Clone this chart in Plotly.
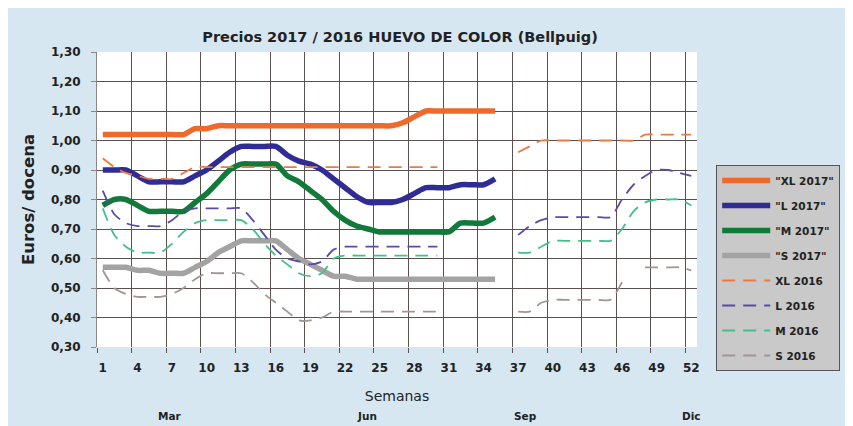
import plotly.graph_objects as go

weeks = list(range(1, 53))
weeks_2017 = list(range(1, 36))
tick_weeks = list(range(1, 53, 3))
tick_labels = [str(w) for w in tick_weeks]

xl_2017 = [1.02] * 8 + [1.04, 1.04] + [1.05] * 16 + [1.06, 1.08] + [1.10] * 7
l_2017 = [0.90, 0.90, 0.90, 0.88, 0.86, 0.86, 0.86, 0.86, 0.88, 0.90,
          0.93, 0.96, 0.98, 0.98, 0.98, 0.98, 0.95, 0.93, 0.92, 0.90,
          0.87, 0.84, 0.81, 0.79, 0.79, 0.79, 0.80, 0.82, 0.84, 0.84,
          0.84, 0.85, 0.85, 0.85, 0.87]
m_2017 = [0.78, 0.80, 0.80, 0.78, 0.76, 0.76, 0.76, 0.76, 0.79, 0.82,
          0.86, 0.90, 0.92, 0.92, 0.92, 0.92, 0.88, 0.86, 0.83, 0.80,
          0.76, 0.73, 0.71, 0.70, 0.69, 0.69, 0.69, 0.69, 0.69, 0.69,
          0.69, 0.72, 0.72, 0.72, 0.74]
s_2017 = [0.57, 0.57, 0.57, 0.56, 0.56, 0.55, 0.55, 0.55, 0.57, 0.59,
          0.62, 0.64, 0.66, 0.66, 0.66, 0.66, 0.63, 0.60, 0.58, 0.56,
          0.54, 0.54, 0.53, 0.53, 0.53, 0.53, 0.53, 0.53, 0.53, 0.53,
          0.53, 0.53, 0.53, 0.53, 0.53]

gap = [None] * 6
xl_2016 = ([0.94, 0.91, 0.89, 0.88, 0.87, 0.87, 0.87, 0.89] + [0.91] * 22 + gap
           + [0.96, 0.98] + [1.00] * 9 + [1.02] * 5)
l_2016 = ([0.83, 0.75, 0.72, 0.71, 0.71, 0.71, 0.73, 0.76, 0.77, 0.77,
           0.77, 0.77, 0.77, 0.73, 0.68, 0.63, 0.60, 0.59, 0.58, 0.59,
           0.63] + [0.64] * 9 + gap
          + [0.68, 0.71, 0.73] + [0.74] * 6 + [0.80, 0.85, 0.88, 0.90, 0.90, 0.89, 0.88])
m_2016 = ([0.77, 0.68, 0.64, 0.62, 0.62, 0.62, 0.65, 0.69, 0.72, 0.73,
           0.73, 0.73, 0.73, 0.70, 0.65, 0.61, 0.58, 0.55, 0.54, 0.55,
           0.60] + [0.61] * 9 + gap
          + [0.62, 0.62, 0.64] + [0.66] * 6 + [0.70, 0.76, 0.79, 0.80, 0.80, 0.80, 0.78])
s_2016 = ([0.56, 0.50, 0.48, 0.47, 0.47, 0.47, 0.48, 0.50, 0.53, 0.55,
           0.55, 0.55, 0.55, 0.52, 0.48, 0.45, 0.42, 0.39, 0.39, 0.40,
           0.42] + [0.42] * 9 + gap
          + [0.42, 0.42, 0.45] + [0.46] * 6 + [0.52, None, 0.57, 0.57, 0.57, 0.57, 0.56])

month_labels = ["Mar", "Jun", "Sep", "Dic"]
month_weeks = [6.8, 23.9, 37.6, 52.0]

series = [
    ('"XL 2017"', weeks_2017, xl_2017, "#ee6a2c", 5.5, "solid"),
    ('"L 2017"', weeks_2017, l_2017, "#2f2c96", 5.5, "solid"),
    ('"M 2017"', weeks_2017, m_2017, "#117a3a", 5.5, "solid"),
    ('"S 2017"', weeks_2017, s_2017, "#a3a3a3", 5.5, "solid"),
    ("XL 2016", weeks, xl_2016, "#ec7a40", 1.8, "13px,8px"),
    ("L 2016", weeks, l_2016, "#5b4aa6", 1.8, "13px,8px"),
    ("M 2016", weeks, m_2016, "#44bf8c", 1.8, "13px,8px"),
    ("S 2016", weeks, s_2016, "#a39494", 1.8, "13px,8px"),
]

FONT = "DejaVu Sans"
GRID = "#5b4f4f"

fig = go.Figure()
for i, (name, xs, ys, color, width, dash) in enumerate(series):
    fig.add_trace(go.Scatter(
        x=xs, y=ys, name=name, mode="lines", legendgroup=f"g{i}",
        line=dict(color=color, width=width, dash=dash, shape="spline", smoothing=0.7),
        connectgaps=False,
    ))

for lab, wk in zip(month_labels, month_weeks):
    fig.add_annotation(x=wk, xref="x", y=-0.235, yref="paper", text=lab,
                       showarrow=False, yanchor="middle",
                       font=dict(family=FONT, size=10.5, color="#222", weight="bold"))

fig.update_layout(
    width=853, height=426,
    margin=dict(l=89, r=164, t=44, b=87),
    paper_bgcolor="#d6e7f2", plot_bgcolor="white",
    separators=",.",
    font=dict(family=FONT, color="#222"),
    title=dict(text="<b>Precios 2017 / 2016 HUEVO DE COLOR (Bellpuig)</b>",
               x=0.4596, xanchor="center", y=1 - 29 / 426, yanchor="middle",
               font=dict(family=FONT, size=14.5, color="#222")),
    showlegend=True,
    legend=dict(x=1.032, xanchor="left", y=0.617, yanchor="top",
                bgcolor="#c9c9c9", bordercolor="#555", borderwidth=1,
                traceorder="grouped", tracegroupgap=6, itemwidth=48,
                font=dict(family=FONT, size=10.5, color="#222", weight="bold")),
    xaxis=dict(range=[0.5, 52.5], tickmode="array", tickvals=tick_weeks, ticktext=tick_labels,
               showgrid=False, ticks="", ticklabelstandoff=12, zeroline=False,
               tickfont=dict(family=FONT, size=12, color="#222", weight="bold"),
               minor=dict(tickmode="array", tickvals=[0.5 + 3 * k for k in range(18)],
                          showgrid=True, gridcolor=GRID, gridwidth=1.3,
                          ticks="outside", ticklen=5, tickcolor=GRID),
               title=dict(text="Semanas", standoff=17,
                          font=dict(family=FONT, size=14, color="#222"))),
    yaxis=dict(range=[0.3, 1.3], dtick=0.1, tick0=0.3, tickformat=".2f",
               showgrid=True, gridcolor=GRID, gridwidth=1.3, zeroline=False,
               showline=True, linecolor="#888", linewidth=1,
               ticks="outside", ticklen=5, tickcolor="#888", ticklabelstandoff=8,
               tickfont=dict(family=FONT, size=12, color="#222", weight="bold"),
               title=dict(text="<b>Euros/ docena</b>", standoff=12,
                          font=dict(family=FONT, size=16.5, color="#222"))),
)

fig.write_html("out.html")
